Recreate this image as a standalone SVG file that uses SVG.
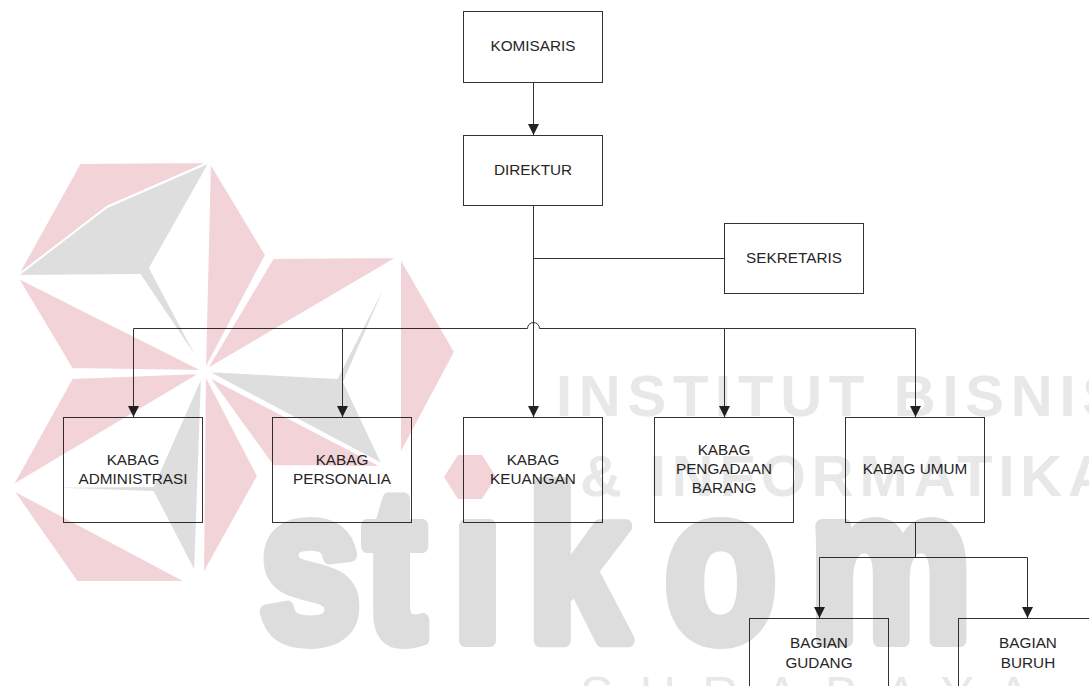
<svg xmlns="http://www.w3.org/2000/svg" width="1089" height="686" viewBox="0 0 1089 686">
<defs>
<style>
.box{fill:#fff;stroke:#333;stroke-width:1}
.lbl{font-family:"Liberation Sans",Arial,sans-serif;font-size:15.3px;fill:#262626;text-anchor:middle}
.conn{fill:none;stroke:#333;stroke-width:1}
.arr{marker-end:url(#ah)}
.pk{fill:#f1d3d8;stroke:#fff;stroke-width:2;stroke-linejoin:round}
.gy{fill:#dedede;stroke:#fff;stroke-width:2;stroke-linejoin:round}
.wm{font-family:"Liberation Sans",Arial,sans-serif;font-weight:bold;fill:#e8e8e8}
</style>
<marker id="ah" viewBox="0 0 10 10" refX="10" refY="5" markerWidth="11" markerHeight="11" markerUnits="userSpaceOnUse" orient="auto"><path d="M0,0 L10,5 L0,10 z" fill="#222"/></marker>
<clipPath id="nodot"><path clip-rule="evenodd" d="M0,0H1089V686H0Z M440,430H522V518H440Z"/></clipPath>
</defs>
<rect width="1089" height="686" fill="#fff"/>

<g id="connectors">
<path class="conn arr" d="M533.5,82.5V135"/>
<path class="conn arr" d="M533.5,205.5V417"/>
<path class="conn" d="M533.5,258.5H724.5"/>
<path class="conn" d="M133.5,328.5H527.5A6,6 0 0 1 539.5,328.5H915.5"/>
<path class="conn arr" d="M133.5,328.5V417"/>
<path class="conn arr" d="M342.5,328.5V417"/>
<path class="conn arr" d="M724.5,328.5V417"/>
<path class="conn arr" d="M915.5,328.5V417"/>
<path class="conn" d="M915.5,522.5V557.5M819.5,557.5H1027.5"/>
<path class="conn arr" d="M819.5,557.5V618"/>
<path class="conn arr" d="M1027.5,557.5V618"/>
</g>

<g id="komisaris"><rect class="box" x="463.5" y="11.5" width="139" height="71"/><text class="lbl" x="533" y="51">KOMISARIS</text></g>
<g id="direktur"><rect class="box" x="463.5" y="135.5" width="139" height="70"/><text class="lbl" x="533" y="175">DIREKTUR</text></g>
<g id="sekretaris"><rect class="box" x="724.5" y="223.5" width="139" height="70"/><text class="lbl" x="794" y="263">SEKRETARIS</text></g>
<g id="kabag-administrasi"><rect class="box" x="63.5" y="417.5" width="139" height="105"/><text class="lbl" x="133" y="465">KABAG</text><text class="lbl" x="133" y="484">ADMINISTRASI</text></g>
<g id="kabag-personalia"><rect class="box" x="272.5" y="417.5" width="139" height="105"/><text class="lbl" x="342" y="465">KABAG</text><text class="lbl" x="342" y="484">PERSONALIA</text></g>
<g id="kabag-keuangan"><rect class="box" x="463.5" y="417.5" width="139" height="105"/><text class="lbl" x="533" y="465">KABAG</text><text class="lbl" x="533" y="484">KEUANGAN</text></g>
<g id="kabag-pengadaan-barang"><rect class="box" x="654.5" y="417.5" width="139" height="105"/><text class="lbl" x="724" y="455">KABAG</text><text class="lbl" x="724" y="474">PENGADAAN</text><text class="lbl" x="724" y="493">BARANG</text></g>
<g id="kabag-umum"><rect class="box" x="845.5" y="417.5" width="139" height="105"/><text class="lbl" x="915" y="474">KABAG UMUM</text></g>
<g id="bagian-gudang"><rect class="box" x="749.5" y="618.5" width="139" height="70"/><text class="lbl" x="819" y="648">BAGIAN</text><text class="lbl" x="819" y="668">GUDANG</text></g>
<g id="bagian-buruh"><rect class="box" x="958.5" y="618.5" width="139" height="70"/><text class="lbl" x="1028" y="648">BAGIAN</text><text class="lbl" x="1028" y="668">BURUH</text></g>

<g id="watermark" style="mix-blend-mode:multiply">
<polygon class="pk" points="80,163 210,162 107,207 17,276"/>
<polygon class="gy" points="17,276 107,207 210,162 150,268 204,370 140,275"/>
<polygon class="pk" points="210,162 266,255 205,370"/>
<polygon class="pk" points="17,277 204,371 72,369"/>
<polygon class="pk" points="273,258 398,257 206,370"/>
<polygon class="gy" points="206,371 337,378 398,258 344,382 383,465"/>
<polygon class="pk" points="400,257 455,352 400,455"/>
<polygon class="pk" points="208,376 383,467 273,466"/>
<polygon class="pk" points="205,374 258,476 203,575"/>
<polygon class="pk" points="72,378 201,373 12,486"/>
<polygon class="gy" points="202,375 153,486 12,487 153,492 195,573"/>
<polygon class="pk" points="12,489 187,582 77,582"/>
<g clip-path="url(#nodot)">
<text transform="translate(0,640) scale(0.85,1)" style="font-family:'Liberation Sans',Arial,sans-serif;font-weight:bold;font-size:215px;fill:#dddddd;stroke:#dddddd;stroke-width:14px;stroke-linejoin:round"><tspan x="305">s</tspan><tspan x="429">t</tspan><tspan x="532">i</tspan><tspan x="620">k</tspan><tspan x="782">o</tspan><tspan x="952">m</tspan></text>
</g>
<polygon fill="#f1d3d8" points="444,477 458,455 482,455 496,477 482,499 458,499"/>
<text class="wm" x="556" y="416" font-size="58" textLength="565" lengthAdjust="spacing">INSTITUT BISNIS</text>
<text class="wm" x="580" y="496" font-size="58" textLength="530" lengthAdjust="spacing">&amp; INFORMATIKA</text>
<text x="580" y="712" font-size="50" textLength="450" lengthAdjust="spacing" style="font-family:'Liberation Sans',Arial,sans-serif;fill:#e8e8e8">SURABAYA</text>
</g>
</svg>
